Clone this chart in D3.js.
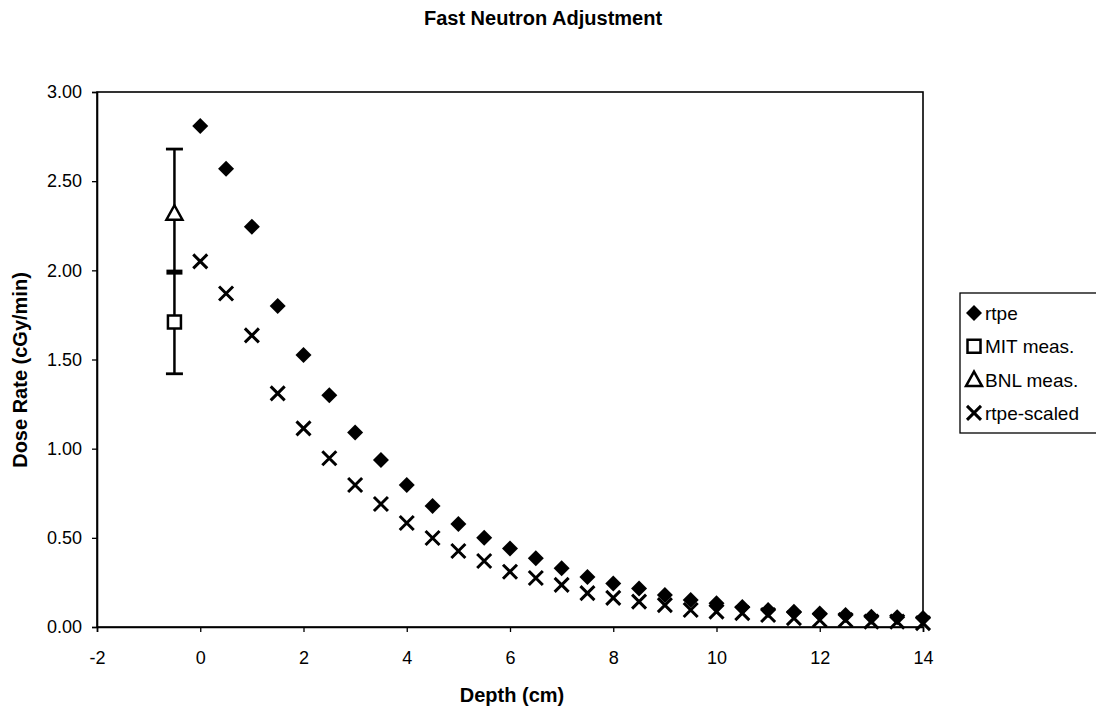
<!DOCTYPE html>
<html>
<head>
<meta charset="utf-8">
<script src="https://cdn.jsdelivr.net/npm/d3@7"></script>
<style>
body { margin: 0; background: #fff; overflow: hidden; }
text { font-family: "Liberation Sans", Arial, sans-serif; fill: #000; }
</style>
</head>
<body>
<svg id="chart" width="1096" height="711"></svg>
<script>
// Data
var depth = [0, 0.5, 1, 1.5, 2, 2.5, 3, 3.5, 4, 4.5, 5, 5.5, 6, 6.5, 7, 7.5, 8, 8.5, 9, 9.5, 10, 10.5, 11, 11.5, 12, 12.5, 13, 13.5, 14];
var rtpe = [2.81, 2.57, 2.245, 1.80, 1.525, 1.30, 1.09, 0.937, 0.796, 0.679, 0.578, 0.50, 0.44, 0.385, 0.33, 0.28, 0.244, 0.216, 0.18, 0.151, 0.133, 0.112, 0.095, 0.085, 0.076, 0.067, 0.058, 0.054, 0.05];
var rtpeScaled = [2.05, 1.87, 1.635, 1.31, 1.114, 0.946, 0.796, 0.69, 0.583, 0.499, 0.426, 0.37, 0.31, 0.275, 0.236, 0.19, 0.163, 0.142, 0.123, 0.095, 0.086, 0.078, 0.067, 0.05, 0.039, 0.039, 0.03, 0.03, 0.022];
var mitMeas = [{x: -0.5, y: 1.71}];
var bnlMeas = [{x: -0.5, y: 2.32}];
var errBar = [{x: -0.5, y: 1.99, lo: 1.42, hi: 2.68}];
var xTicks = [-2, 0, 2, 4, 6, 8, 10, 12, 14];
var yTicks = [0, 0.5, 1, 1.5, 2, 2.5, 3];
var legendNames = ['rtpe', 'MIT meas.', 'BNL meas.', 'rtpe-scaled'];

var svg = d3.select('#chart');
var m = {left: 97, right: 923, top: 92, bottom: 627};

var x = d3.scaleLinear().domain([-2, 14]).range([m.left, m.right]);
var y = d3.scaleLinear().domain([0, 3]).range([m.bottom, m.top]);

// Title
svg.append('text')
    .attr('x', 543).attr('y', 25)
    .attr('text-anchor', 'middle')
    .style('font-size', '20px').style('font-weight', 'bold')
    .text('Fast Neutron Adjustment');

// Plot frame
svg.append('rect')
    .attr('x', m.left).attr('y', m.top)
    .attr('width', m.right - m.left).attr('height', m.bottom - m.top)
    .attr('fill', 'none').attr('stroke', '#000').attr('stroke-width', 1.6);

// Axes
var xAxis = svg.append('g')
    .attr('transform', 'translate(0,' + m.bottom + ')')
    .call(d3.axisBottom(x).tickValues(xTicks).tickSize(5).tickPadding(19).tickFormat(function(d){ return String(d); }));
var yAxis = svg.append('g')
    .attr('transform', 'translate(' + m.left + ',0)')
    .call(d3.axisLeft(y).tickValues(yTicks).tickSize(5).tickPadding(10).tickFormat(d3.format('.2f')));

[xAxis, yAxis].forEach(function(a)
{
    a.select('.domain').attr('stroke', '#000').attr('stroke-width', 1.6);
    a.selectAll('.tick line').attr('stroke', '#000').attr('stroke-width', 1.3);
    a.selectAll('.tick text').style('font-size', '18px').style('font-family', '"Liberation Sans", Arial, sans-serif').attr('fill', '#000');
});

// Axis titles
svg.append('text')
    .attr('x', 512).attr('y', 702)
    .attr('text-anchor', 'middle')
    .style('font-size', '20px').style('font-weight', 'bold')
    .text('Depth (cm)');
svg.append('text')
    .attr('transform', 'translate(27,370) rotate(-90)')
    .attr('text-anchor', 'middle')
    .style('font-size', '20px').style('font-weight', 'bold')
    .text('Dose Rate (cGy/min)');

// Marker shapes
var diamond = 'M0,-8L8,0L0,8L-8,0Z';
var cross = 'M-7,-7L7,7M-7,7L7,-7';
var square = 'M-6.5,-6.5H6.5V6.5H-6.5Z';
var triangle = 'M0,-8L8,6.5H-8Z';

var plot = svg.append('g');

// Error bar with dash marker
var eb = plot.selectAll('.eb').data(errBar).enter().append('g');
eb.append('line')
    .attr('x1', function(d){ return x(d.x); }).attr('x2', function(d){ return x(d.x); })
    .attr('y1', function(d){ return y(d.lo); }).attr('y2', function(d){ return y(d.hi); })
    .attr('stroke', '#000').attr('stroke-width', 2.5);
eb.selectAll('.cap').data(function(d){ return [d.lo, d.hi].map(function(v){ return {x: d.x, v: v}; }); })
    .enter().append('line')
    .attr('x1', function(d){ return x(d.x) - 8.5; }).attr('x2', function(d){ return x(d.x) + 8.5; })
    .attr('y1', function(d){ return y(d.v); }).attr('y2', function(d){ return y(d.v); })
    .attr('stroke', '#000').attr('stroke-width', 2.8);
eb.append('rect')
    .attr('x', function(d){ return x(d.x) - 8; }).attr('y', function(d){ return y(d.y) - 2.5; })
    .attr('width', 16).attr('height', 5).attr('fill', '#000');

// rtpe-scaled crosses
plot.selectAll('.xs').data(depth).enter().append('path')
    .attr('d', cross)
    .attr('transform', function(d, i){ return 'translate(' + x(d) + ',' + y(rtpeScaled[i]) + ')'; })
    .attr('fill', 'none').attr('stroke', '#000').attr('stroke-width', 3);

// rtpe diamonds
plot.selectAll('.dm').data(depth).enter().append('path')
    .attr('d', diamond)
    .attr('transform', function(d, i){ return 'translate(' + x(d) + ',' + y(rtpe[i]) + ')'; })
    .attr('fill', '#000');

// MIT square
plot.selectAll('.mit').data(mitMeas).enter().append('path')
    .attr('d', square)
    .attr('transform', function(d){ return 'translate(' + x(d.x) + ',' + y(d.y) + ')'; })
    .attr('fill', '#fff').attr('stroke', '#000').attr('stroke-width', 2.5);

// BNL triangle
plot.selectAll('.bnl').data(bnlMeas).enter().append('path')
    .attr('d', triangle)
    .attr('transform', function(d){ return 'translate(' + x(d.x) + ',' + y(d.y) + ')'; })
    .attr('fill', '#fff').attr('stroke', '#000').attr('stroke-width', 2.5);

// Legend
var leg = svg.append('g');
leg.append('rect')
    .attr('x', 960).attr('y', 293).attr('width', 150).attr('height', 140)
    .attr('fill', '#fff').attr('stroke', '#000').attr('stroke-width', 1.3);
var legShapes = [
    {d: diamond, fill: '#000', stroke: 'none', sw: 0},
    {d: square, fill: '#fff', stroke: '#000', sw: 2.5},
    {d: triangle, fill: '#fff', stroke: '#000', sw: 2.5},
    {d: cross, fill: 'none', stroke: '#000', sw: 3}
];
var li = leg.selectAll('.li').data(legendNames).enter().append('g')
    .attr('transform', function(d, i){ return 'translate(0,' + (313 + i * 33.3) + ')'; });
li.append('path')
    .attr('d', function(d, i){ return legShapes[i].d; })
    .attr('transform', 'translate(974,0)')
    .attr('fill', function(d, i){ return legShapes[i].fill; })
    .attr('stroke', function(d, i){ return legShapes[i].stroke; })
    .attr('stroke-width', function(d, i){ return legShapes[i].sw; });
li.append('text')
    .attr('x', 985).attr('y', 7)
    .style('font-size', '19px')
    .text(function(d){ return d; });
</script>
</body>
</html>
